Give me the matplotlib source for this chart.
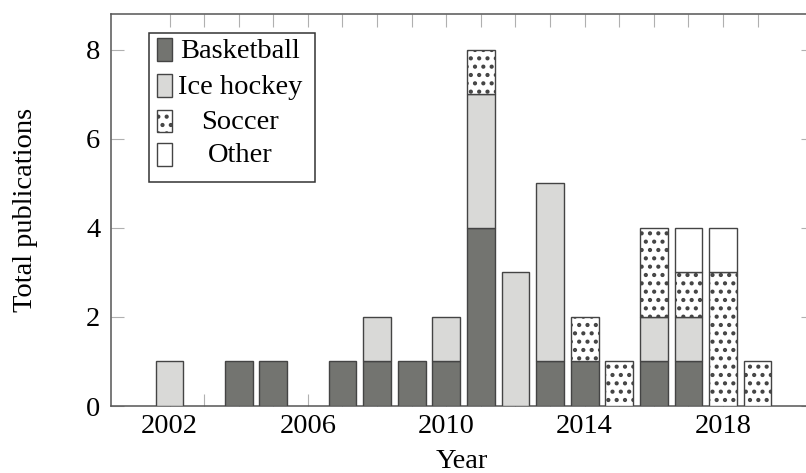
import numpy as np
import matplotlib
matplotlib.use('Agg')
import matplotlib.pyplot as plt
from matplotlib.patches import Rectangle

plt.rcParams['font.family'] = ['Liberation Serif', 'DejaVu Serif']
plt.rcParams['hatch.linewidth'] = 1.8
plt.rcParams['hatch.color'] = 'black'

years = list(range(2002, 2020))
basketball = [0, 0, 1, 1, 0, 1, 1, 1, 1, 4, 0, 1, 1, 0, 1, 1, 0, 0]
ice_hockey = [1, 0, 0, 0, 0, 0, 1, 0, 1, 3, 3, 4, 0, 0, 1, 1, 0, 0]
soccer     = [0, 0, 0, 0, 0, 0, 0, 0, 0, 1, 0, 0, 1, 1, 2, 1, 3, 1]
other      = [0, 0, 0, 0, 0, 0, 0, 0, 0, 0, 0, 0, 0, 0, 0, 1, 1, 0]
labels = ['Basketball', 'Ice hockey', 'Soccer', 'Other']
xticks = [2002, 2006, 2010, 2014, 2018]
yticks = [0, 2, 4, 6, 8]

styles = [
    dict(facecolor='#737470', hatch=None),
    dict(facecolor='#d9d9d7', hatch=None),
    dict(facecolor='white', hatch='..'),
    dict(facecolor='white', hatch=None),
]
edge = '#444444'
fs = 20.5

W, H = 806, 473
fig = plt.figure(figsize=(W / 100, H / 100), dpi=100)
ax = fig.add_axes([110.7 / W, (H - 406) / H, (813 - 110.7) / W, (406 - 14) / H])

bottom = np.zeros(len(years))
for vals, st in zip([basketball, ice_hockey, soccer, other], styles):
    vals = np.array(vals, dtype=float)
    m = vals > 0
    ax.bar(np.array(years)[m], vals[m], width=0.8, bottom=bottom[m],
           facecolor=st['facecolor'], hatch=st['hatch'],
           edgecolor=edge, linewidth=1.0, zorder=3)
    bottom += vals

ax.set_xlim(2000.3, 2020.6)
ax.set_ylim(0, 8.8)
ax.set_xticks(xticks)
ax.set_xticks(years, minor=True)
ax.set_yticks(yticks)
ax.tick_params(which='both', direction='in', length=9, width=0.8, color='#b0b0b0',
               top=True, right=True, labelsize=fs)
ax.tick_params(axis='x', pad=6)
ax.tick_params(axis='y', pad=7.5)
for s in ax.spines.values():
    s.set_color('#555555')
    s.set_linewidth(1.1)
ax.set_axisbelow(True)

ax.set_ylabel('Total publications', fontsize=fs)
ax.yaxis.set_label_coords(-0.104, 0.5)
ax.set_xlabel('Year', fontsize=fs)
ax.xaxis.set_label_coords(0.5, -0.11)

# legend drawn by hand so the entries sit centred in the box
def fx(x):
    return x / W

def fy(y):
    return 1 - y / H

ax.add_patch(Rectangle((fx(149), fy(182)), fx(315) - fx(149), fy(33) - fy(182),
                       transform=fig.transFigure, facecolor='white',
                       edgecolor='#333333', linewidth=1.1, zorder=5, clip_on=False))
rows = [50, 86, 121, 155]
for lab, st, yc in zip(labels, styles, rows):
    ax.add_patch(Rectangle((fx(157), fy(yc + 11.5)), fx(172) - fx(157), fy(yc - 11.5) - fy(yc + 11.5),
                           transform=fig.transFigure, facecolor=st['facecolor'],
                           hatch=st['hatch'], edgecolor=edge, linewidth=1.0,
                           zorder=6, clip_on=False))
    fig.text(fx(240), fy(yc + 1), lab, ha='center', va='center', fontsize=fs, zorder=7)

fig.savefig('out.png', dpi=100)
